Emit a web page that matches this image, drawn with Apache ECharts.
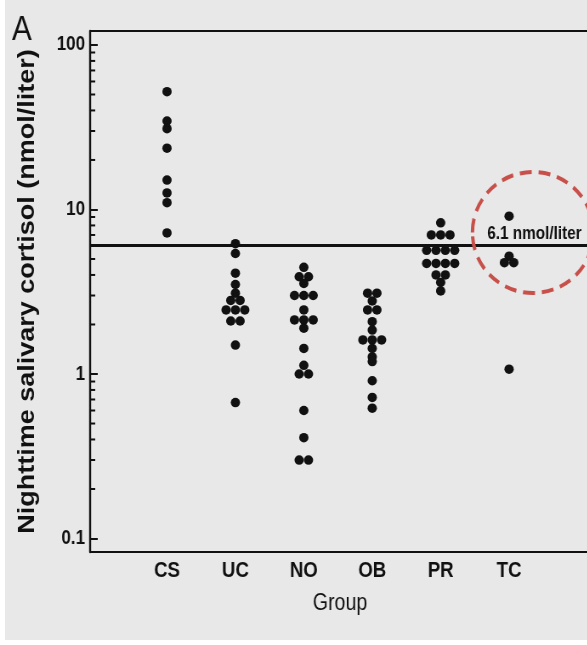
<!DOCTYPE html>
<html>
<head>
<meta charset="utf-8">
<script src="https://cdn.jsdelivr.net/npm/echarts@6/dist/echarts.min.js"></script>
<style>
  html, body { margin: 0; padding: 0; width: 587px; height: 645px; overflow: hidden; background: #fff; }
  #panel { position: absolute; left: 5px; top: 0; width: 582px; height: 640px; background: #e8e8e8; }
  /* the figure is drawn in a wider box and condensed horizontally */
  #chart { position: absolute; left: 0; top: 0; width: 691px; height: 645px; transform: scaleX(0.85); transform-origin: 0 0; }
</style>
</head>
<body>
<div id="panel"></div>
<div id="chart"></div>
<script>
// Groups and nighttime salivary cortisol values (nmol/liter)
const groups = ['CS', 'UC', 'NO', 'OB', 'PR', 'TC'];
const csValues = [52, 34.5, 31, 23.6, 15.1, 12.6, 11, 7.2];
const ucValues = [6.2, 5.4, 4.1, 3.5, 3.1, 2.8, 2.8, 2.45, 2.45, 2.45, 2.1, 2.1, 1.5, 0.67];
const noValues = [4.45, 3.9, 3.9, 3.55, 3.0, 3.0, 3.0, 2.45, 2.13, 2.13, 2.13, 1.9, 1.43, 1.13, 1.0, 1.0, 0.6, 0.41, 0.3, 0.3];
const obValues = [3.1, 3.1, 2.78, 2.45, 2.45, 2.08, 1.85, 1.61, 1.61, 1.61, 1.43, 1.27, 1.19, 0.91, 0.72, 0.62];
const prValues = [8.3, 7.0, 7.0, 7.0, 5.65, 5.65, 5.65, 5.65, 4.7, 4.7, 4.7, 4.7, 4.0, 4.0, 3.6, 3.2];
const tcValues = [9.1, 5.2, 4.75, 4.75, 1.07];
const cutoff = 6.1;
const yTickLabels = [0.1, 1, 10, 100];
const yMinorTicks = [0.2, 0.3, 0.4, 0.5, 0.6, 0.7, 0.8, 0.9,
                     2, 3, 4, 5, 6, 7, 8, 9,
                     20, 30, 40, 50, 60, 70, 80, 90];

const groupValues = [csValues, ucValues, noValues, obValues, prValues, tcValues];

const FONT = '"Liberation Sans", Arial, Helvetica, sans-serif';
const INK = '#111';
const X_MIN = -0.124, X_MAX = 7.43;
const Y_MIN = 0.0828, Y_MAX = 121.6;
const CUTOFF_LABEL_X = 5.68;

const chart = echarts.init(document.getElementById('chart'), null, { renderer: 'canvas' });

const baseOption = {
  backgroundColor: 'transparent',
  animation: false,
  grid: {
    left: 106, top: 31, bottom: 93, width: 608,
    outerBoundsMode: 'none', containLabel: false,
    show: true, borderColor: INK, borderWidth: 2, backgroundColor: 'transparent'
  },
  xAxis: {
    type: 'value', min: X_MIN, max: X_MAX, minInterval: 1, maxInterval: 1,
    splitLine: { show: false },
    axisLine: { show: true, onZero: false, lineStyle: { color: INK, width: 2 } },
    axisTick: { show: false },
    axisLabel: {
      showMinLabel: false, showMaxLabel: false, margin: 8,
      fontSize: 22, fontWeight: 'bold', color: INK, fontFamily: FONT,
      formatter: v => {
        const i = Math.round(v);
        return (Math.abs(v - i) < 1e-6 && i >= 1 && i <= groups.length) ? groups[i - 1] : '';
      }
    },
    name: 'Group', nameLocation: 'middle', nameGap: 40,
    nameTextStyle: { fontSize: 23, color: INK, fontFamily: FONT, padding: [0, 20, 0, 0] }
  },
  yAxis: {
    type: 'log', logBase: 10, min: Y_MIN, max: Y_MAX,
    splitLine: { show: false },
    axisLine: { show: true, onZero: false, lineStyle: { color: INK, width: 2.4 } },
    axisTick: { show: true, inside: true, length: 9, lineStyle: { color: INK, width: 2 } },
    axisLabel: {
      showMinLabel: false, showMaxLabel: false, margin: 6,
      fontSize: 20, fontWeight: 'bold', color: INK, fontFamily: FONT,
      formatter: v => {
        const r = +Number(v).toPrecision(6);
        return yTickLabels.includes(r) ? String(r) : '';
      }
    },
    name: 'Nighttime salivary cortisol (nmol/liter)', nameLocation: 'middle', nameGap: 60,
    nameTextStyle: { fontSize: 27, fontWeight: 'bold', color: INK, fontFamily: FONT }
  },
  graphic: [
    {
      type: 'text', left: 14, top: 13, z: 50,
      style: { text: 'A', fontSize: 35, fontFamily: FONT, fill: INK }
    },
    {
      type: 'ellipse', z: 100, silent: true,
      shape: { cx: 627, cy: 232.5, rx: 71.2, ry: 60.5 },
      style: { fill: 'none', stroke: '#c8504a', lineWidth: 4, lineDash: [14, 8] }
    }
  ],
  series: []
};
chart.setOption(baseOption);

// Dot-plot layout: values falling on (almost) the same row are spread
// symmetrically around the group's position.
const ROW_TOL = 3;      // px
const DOT_STEP = 11;    // px between neighbours in a row
const pxPerUnit = chart.convertToPixel({ xAxisIndex: 0 }, 1) - chart.convertToPixel({ xAxisIndex: 0 }, 0);

function dotRows(values, cat) {
  const pts = values.map(v => ({ v, y: chart.convertToPixel({ yAxisIndex: 0 }, v) }))
                    .sort((a, b) => a.y - b.y);
  const rows = [];
  pts.forEach(p => {
    const row = rows[rows.length - 1];
    if (row && p.y - row[0].y <= ROW_TOL) row.push(p); else rows.push([p]);
  });
  const out = [];
  rows.forEach(row => row.forEach((p, k) => {
    out.push([cat + (k - (row.length - 1) / 2) * DOT_STEP / pxPerUnit, p.v]);
  }));
  return out;
}

const dots = [];
groupValues.forEach((vals, i) => dots.push(...dotRows(vals, i + 1)));

chart.setOption({
  series: [
    {
      type: 'scatter',
      data: dots,
      symbol: 'circle',
      symbolSize: [11, 9.5],
      itemStyle: { color: INK, opacity: 1 },
      z: 5,
      markLine: {
        silent: true, symbol: ['none', 'none'],
        lineStyle: { color: INK, width: 3, type: 'solid', opacity: 1 },
        label: { show: false },
        data: [{ yAxis: cutoff }]
      },
      markPoint: {
        silent: true, symbolSize: 0,
        data: [{ coord: [CUTOFF_LABEL_X, cutoff] }],
        label: {
          show: true, position: [0, -20],
          formatter: cutoff + ' nmol/liter',
          fontSize: 18, fontWeight: 'bold', color: INK, fontFamily: FONT
        }
      }
    },
    {
      type: 'custom',
      silent: true,
      data: yMinorTicks.map(v => [X_MIN, v]),
      encode: { x: 0, y: 1 },
      renderItem: (params, api) => {
        const p = api.coord([api.value(0), api.value(1)]);
        return {
          type: 'line',
          shape: { x1: p[0], y1: p[1], x2: p[0] + 6, y2: p[1] },
          style: { stroke: INK, lineWidth: 2 }
        };
      }
    }
  ]
});
</script>
</body>
</html>
